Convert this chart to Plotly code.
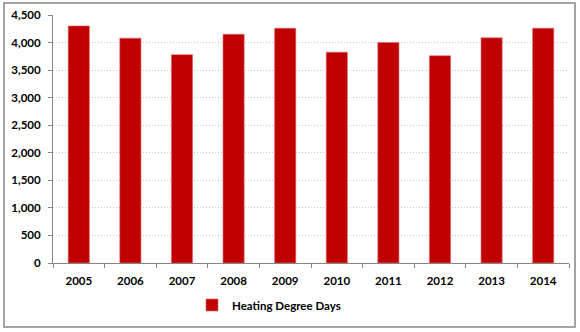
import plotly.graph_objects as go

years = ["2005", "2006", "2007", "2008", "2009", "2010", "2011", "2012", "2013", "2014"]
heating_degree_days = [4300, 4080, 3780, 4150, 4260, 3825, 4000, 3760, 4085, 4260]
y_ticks = [0, 500, 1000, 1500, 2000, 2500, 3000, 3500, 4000, 4500]

W, H = 580, 332
ML, MR, MT, MB = 53, 11, 15, 69

fig = go.Figure()
fig.add_trace(go.Bar(
    x=years,
    y=heating_degree_days,
    name="Heating Degree Days",
    marker=dict(color="#C00000", line=dict(color="#E06666", width=0.6)),
    width=0.41,
))

tick_font = dict(family="Lato", size=11.5, color="#000000", weight="bold")

pw = W - ML - MR
ph = H - MT - MB

fig.update_layout(
    width=W, height=H,
    margin=dict(l=ML, r=MR, t=MT, b=MB, autoexpand=False),
    paper_bgcolor="white",
    plot_bgcolor="white",
    font=tick_font,
    showlegend=True,
    legend=dict(
        orientation="h", x=(192 - ML) / pw, xanchor="left",
        y=-(305 - (H - MB)) / ph, yanchor="middle",
        font=tick_font,
        bgcolor="rgba(0,0,0,0)",
    ),
    xaxis=dict(
        type="category",
        showline=True, linecolor="#868686", linewidth=1,
        ticks="outside", tickson="boundaries", ticklen=4, tickcolor="#868686",
        tickfont=tick_font, ticklabelstandoff=7,
        showgrid=False,
    ),
    yaxis=dict(
        range=[0, 4500],
        tickvals=y_ticks,
        tickformat=",",
        showline=True, linecolor="#868686", linewidth=1,
        ticks="outside", ticklen=4, tickcolor="#868686",
        tickfont=tick_font, ticklabelstandoff=5,
        showgrid=True, gridcolor="#C8C8C8", griddash="1px,2px", gridwidth=1,
        zeroline=False,
    ),
)

# Outer chart border
x0 = (4 - ML) / pw
x1 = (575 - ML) / pw
y0 = -(327 - (H - MB)) / ph
y1 = 1 + (MT - 3) / ph
fig.add_shape(type="rect", xref="paper", yref="paper",
              x0=x0, x1=x1, y0=y0, y1=y1,
              line=dict(color="#868686", width=1.5), fillcolor="rgba(0,0,0,0)",
              layer="below")

fig.write_html("out.html")
